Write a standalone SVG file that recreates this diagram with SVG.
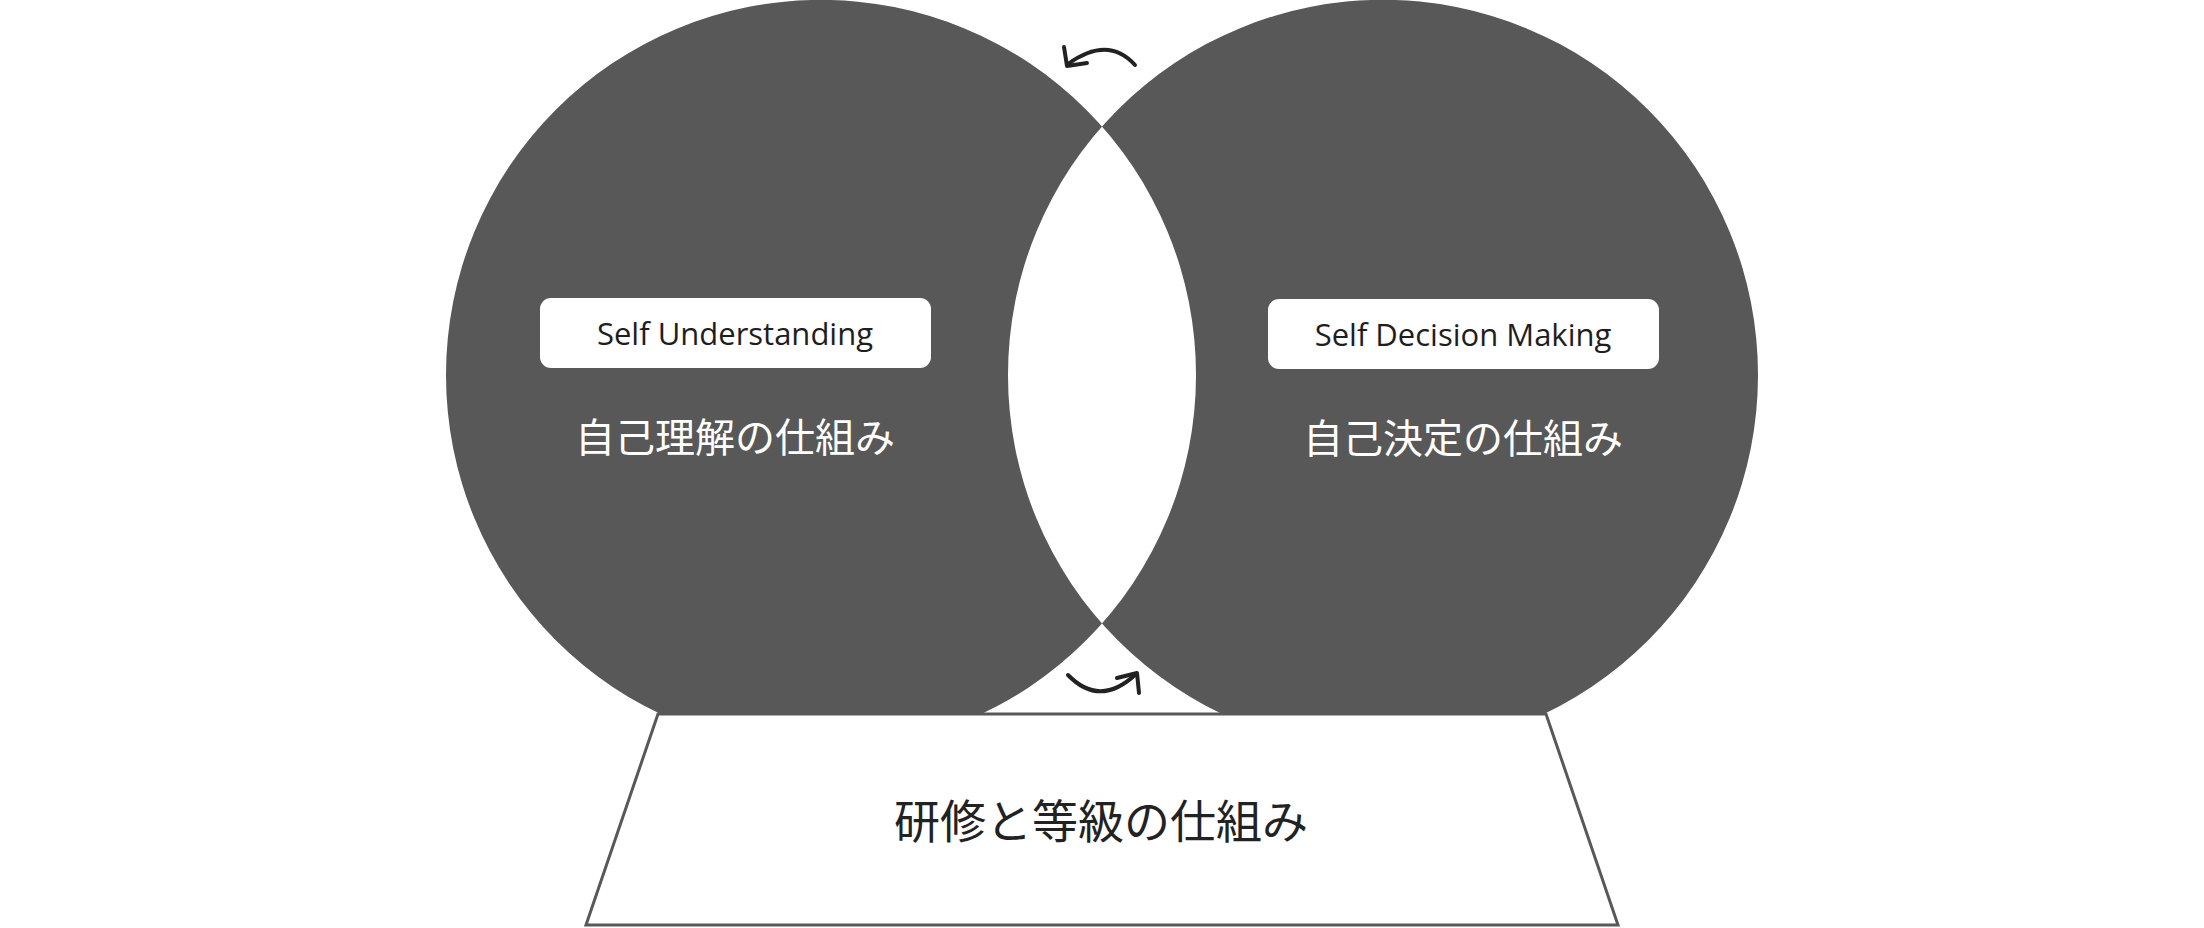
<svg xmlns="http://www.w3.org/2000/svg" width="2204" height="928" viewBox="0 0 2204 928">
<style>
.lbl{fill:#fff}
.en{font-family:"Open Sans","Noto Sans",sans-serif;font-size:31px;fill:#1e1e1e;text-anchor:middle}
.jp{font-family:"Noto Sans CJK JP",sans-serif;font-size:40px;fill:#fff;text-anchor:middle}
.arr{fill:none;stroke:#222;stroke-width:4;stroke-linecap:round;stroke-linejoin:round}
</style>
<rect width="2204" height="928" fill="#fff"/>
<g id="circles">
<path fill="#585858" fill-rule="evenodd" d="M446,375a375,375 0 1,0 750,0a375,375 0 1,0 -750,0Z M1008,375a375,375 0 1,0 750,0a375,375 0 1,0 -750,0Z"/>
</g>
<g id="node-left">
<rect class="lbl" x="540" y="298" width="391" height="70" rx="11"/>
<text class="en" x="735" y="345">Self Understanding</text>
<text class="jp" x="735" y="452">自己理解の仕組み</text>
</g>
<g id="node-right">
<rect class="lbl" x="1268" y="299" width="391" height="70" rx="11"/>
<text class="en" x="1463" y="346">Self Decision Making</text>
<text class="jp" x="1463" y="453">自己決定の仕組み</text>
</g>
<g id="node-base">
<polygon points="658,714 1546,714 1618,925 586,925" fill="#fff" stroke="#585858" stroke-width="3"/>
<text x="1101" y="838" font-family="Noto Sans CJK JP,sans-serif" font-size="46" fill="#222" text-anchor="middle">研修と等級の仕組み</text>
</g>
<g id="connectors">
<path class="arr" d="M1135,65 Q1108,35 1068,64"/>
<path class="arr" d="M1064,47 L1067,66 L1087,63"/>
<path class="arr" d="M1068,675 Q1100,708 1136,674"/>
<path class="arr" d="M1117,678 L1137,673 L1139,693"/>
</g>
</svg>
